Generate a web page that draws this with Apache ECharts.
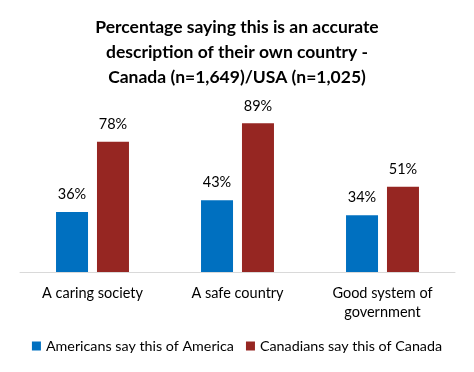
<!DOCTYPE html>
<html><head><meta charset="utf-8">
<script src="https://cdn.jsdelivr.net/npm/echarts@6/dist/echarts.min.js"></script>
<style>html,body{margin:0;padding:0;background:#fff}#c{width:474px;height:372px}</style>
</head><body><div id="c"></div>
<script>
var categories = ['A caring society', 'A safe country', 'Good system of\ngovernment'];
var americans = [36, 43, 34];
var canadians = [78, 89, 51];
var seriesNames = ['Americans say this of America', 'Canadians say this of Canada'];
var titleText = 'Percentage saying this is an accurate\ndescription of their own country -\nCanada (n=1,649)/USA (n=1,025)';

var FONT = 'Lato';
var chart = echarts.init(document.getElementById('c'), null, {renderer: 'canvas'});
var labelCfg = {show: true, position: 'top', distance: 10, formatter: '{c}%', color: '#000', fontFamily: FONT, fontSize: 14.5};
chart.setOption({
  animation: false,
  backgroundColor: '#fff',
  title: {text: titleText, left: 'center', top: 10,
    textStyle: {fontFamily: FONT, fontWeight: 'bold', fontSize: 17.5, lineHeight: 25, color: '#000'}},
  legend: {bottom: 14, left: 'center', itemWidth: 9, itemHeight: 9, itemGap: 12, icon: 'rect',
    textStyle: {fontFamily: FONT, fontSize: 14.3, color: '#000'}, data: seriesNames},
  grid: {left: 20, right: 19, top: 105, bottom: 100, containLabel: false},
  xAxis: {type: 'category', data: categories,
    axisLine: {lineStyle: {color: '#D9D9D9', width: 1}}, axisTick: {show: false},
    axisLabel: {fontFamily: FONT, fontSize: 14.5, color: '#000', margin: 12, lineHeight: 19}},
  yAxis: {type: 'value', min: 0, max: 100, show: false, splitLine: {show: false}},
  series: [
    {name: seriesNames[0], type: 'bar', data: americans, barWidth: 32, barGap: '28%',
      itemStyle: {color: '#0070C0'}, label: labelCfg},
    {name: seriesNames[1], type: 'bar', data: canadians, barWidth: 32,
      itemStyle: {color: '#962622'}, label: labelCfg}
  ]
});
</script></body></html>
